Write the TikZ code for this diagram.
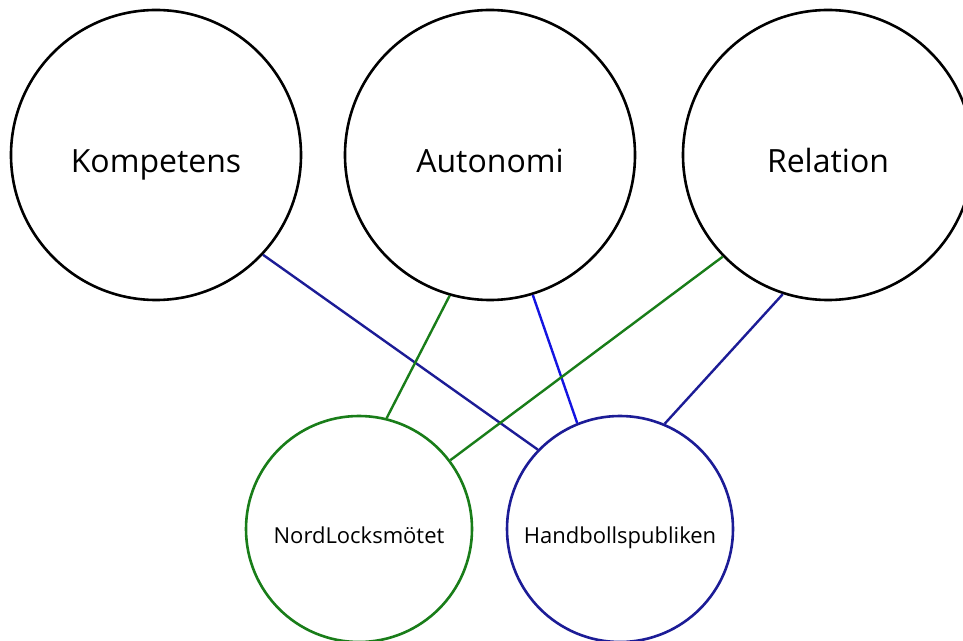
\documentclass[tikz,border=0pt]{standalone}
\usepackage{fontspec}
\setmainfont{Open Sans}
\definecolor{navy}{RGB}{28,28,150}
\definecolor{ljusbla}{RGB}{20,20,225}
\definecolor{gron}{RGB}{25,125,25}

\begin{document}
\begin{tikzpicture}[x=1pt,y=1pt,
    stor/.style={circle, draw=black, line width=2.6pt, minimum size=290pt, inner sep=0pt},
    liten/.style={circle, line width=2.6pt, minimum size=226pt, inner sep=0pt},
    stortext/.style={font=\fontsize{32}{38}\selectfont, text height=24pt, text depth=7pt, yshift=-9.5pt},
    litentext/.style={font=\fontsize{22}{26}\selectfont, text height=17pt, text depth=5pt, yshift=-8pt},
    linje/.style={line width=2.4pt}]
    \useasboundingbox (0,0) rectangle (963,640);
    \node[stor, label={[stortext]center:Kompetens}] (komp) at (156,485) {};
    \node[stor, label={[stortext]center:Autonomi}] (auto) at (490,485) {};
    \node[stor, label={[stortext]center:Relation}] (rel) at (828,485) {};
    \node[liten, draw=gron, label={[litentext]center:NordLocksmötet}] (nord) at (359,111) {};
    \node[liten, draw=navy, label={[litentext]center:Handbollspubliken}] (hand) at (620,111) {};
    \draw[linje, navy] (komp.-43) -- (hand.136);
    \draw[linje, gron] (auto.-106) -- (nord.76);
    \draw[linje, ljusbla] (auto.-73) -- (hand.112);
    \draw[linje, gron] (rel.-136) -- (nord.37);
    \draw[linje, navy] (rel.-108) -- (hand.67);
\end{tikzpicture}
\end{document}
